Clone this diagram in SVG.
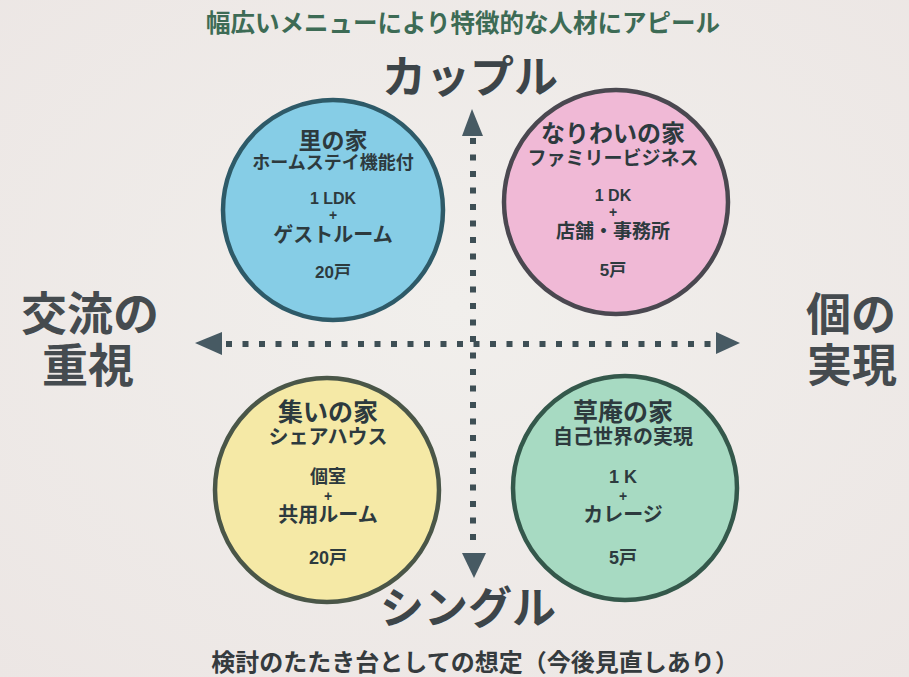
<svg xmlns="http://www.w3.org/2000/svg" width="909" height="677" viewBox="0 0 909 677">
<defs>
<style>
text{font-family:"Noto Sans CJK JP","Noto Sans",sans-serif;font-weight:bold;text-anchor:middle;dominant-baseline:central}
.axis{stroke:#3e4f55;stroke-width:6;stroke-dasharray:6 10.5;fill:none}
.head{fill:#475a63}
.circ{stroke-width:4.5}
.ct{fill:#2d3a3e;font-family:"Liberation Sans","Noto Sans CJK JP",sans-serif}
.big{font-size:44px;fill:#3d4549}
.side{font-size:46px;fill:#454b4f;font-family:"Liberation Sans","Noto Sans CJK JP",sans-serif}
.note{font-size:24px;fill:#353b3e}
</style>
<radialGradient id="bg" cx="0.5" cy="0.45" r="0.75">
<stop offset="0" stop-color="#f1efec"/>
<stop offset="1" stop-color="#ece6e4"/>
</radialGradient>
</defs>
<rect width="909" height="677" fill="url(#bg)"/>

<g id="title"><text x="463" y="21" style="font-size:24.5px;fill:#3d6b55">幅広いメニューにより特徴的な人材にアピール</text></g>

<g id="connectors">
<line class="axis" x1="473" y1="138" x2="473" y2="547"/>
<line class="axis" x1="226" y1="344" x2="714" y2="344"/>
<polygon class="head" points="472,109 483,136 462,136"/>
<polygon class="head" points="474,578 486,553 462,553"/>
<polygon class="head" points="195,343 222,332 222,355"/>
<polygon class="head" points="740,343 716,332 716,354"/>
</g>

<g id="label-couple"><text class="big" x="470" y="74">カップル</text></g>
<g id="label-single"><text class="big" x="468" y="605">シングル</text></g>
<g id="label-left"><text class="side" x="90" y="314">交流の</text><text class="side" x="88" y="366">重視</text></g>
<g id="label-right"><text class="side" x="851" y="315" style="font-size:45px">個の</text><text class="side" x="852" y="366" style="font-size:45px">実現</text></g>

<g id="node-sato">
<circle class="circ" cx="333" cy="210" r="110" fill="#86cde6" stroke="#2e5a68"/>
<text class="ct" x="333" y="141" style="font-size:23px">里の家</text>
<text class="ct" x="333" y="163" style="font-size:18px">ホームステイ機能付</text>
<text class="ct" x="333" y="198" style="font-size:16px">1 LDK</text>
<text class="ct" x="333" y="215" style="font-size:14px">+</text>
<text class="ct" x="333" y="235" style="font-size:20px">ゲストルーム</text>
<text class="ct" x="333" y="272" style="font-size:17px">20戸</text>
</g>

<g id="node-nariwai">
<circle class="circ" cx="616" cy="202" r="112" fill="#f0b9d6" stroke="#4a4850"/>
<text class="ct" x="613" y="133" style="font-size:24px">なりわいの家</text>
<text class="ct" x="613" y="158" style="font-size:19px">ファミリービジネス</text>
<text class="ct" x="613" y="195" style="font-size:16px">1 DK</text>
<text class="ct" x="613" y="212" style="font-size:14px">+</text>
<text class="ct" x="613" y="231" style="font-size:19px">店舗・事務所</text>
<text class="ct" x="613" y="270" style="font-size:17px">5戸</text>
</g>

<g id="node-tsudoi">
<circle class="circ" cx="327" cy="490" r="112" fill="#f5e9a6" stroke="#4a5648"/>
<text class="ct" x="328" y="412" style="font-size:25px">集いの家</text>
<text class="ct" x="328" y="437" style="font-size:20px">シェアハウス</text>
<text class="ct" x="328" y="477" style="font-size:18px">個室</text>
<text class="ct" x="328" y="496" style="font-size:14px">+</text>
<text class="ct" x="328" y="515" style="font-size:20px">共用ルーム</text>
<text class="ct" x="328" y="558" style="font-size:18px">20戸</text>
</g>

<g id="node-soan">
<circle class="circ" cx="625" cy="488" r="112" fill="#a7dac2" stroke="#34584b"/>
<text class="ct" x="623" y="412" style="font-size:25px">草庵の家</text>
<text class="ct" x="623" y="437" style="font-size:20px">自己世界の実現</text>
<text class="ct" x="623" y="477" style="font-size:18px">1 K</text>
<text class="ct" x="623" y="496" style="font-size:14px">+</text>
<text class="ct" x="623" y="515" style="font-size:20px">カレージ</text>
<text class="ct" x="623" y="558" style="font-size:18px">5戸</text>
</g>

<g id="footnote"><text class="note" x="475" y="660">検討のたたき台としての想定（今後見直しあり）</text></g>
</svg>
